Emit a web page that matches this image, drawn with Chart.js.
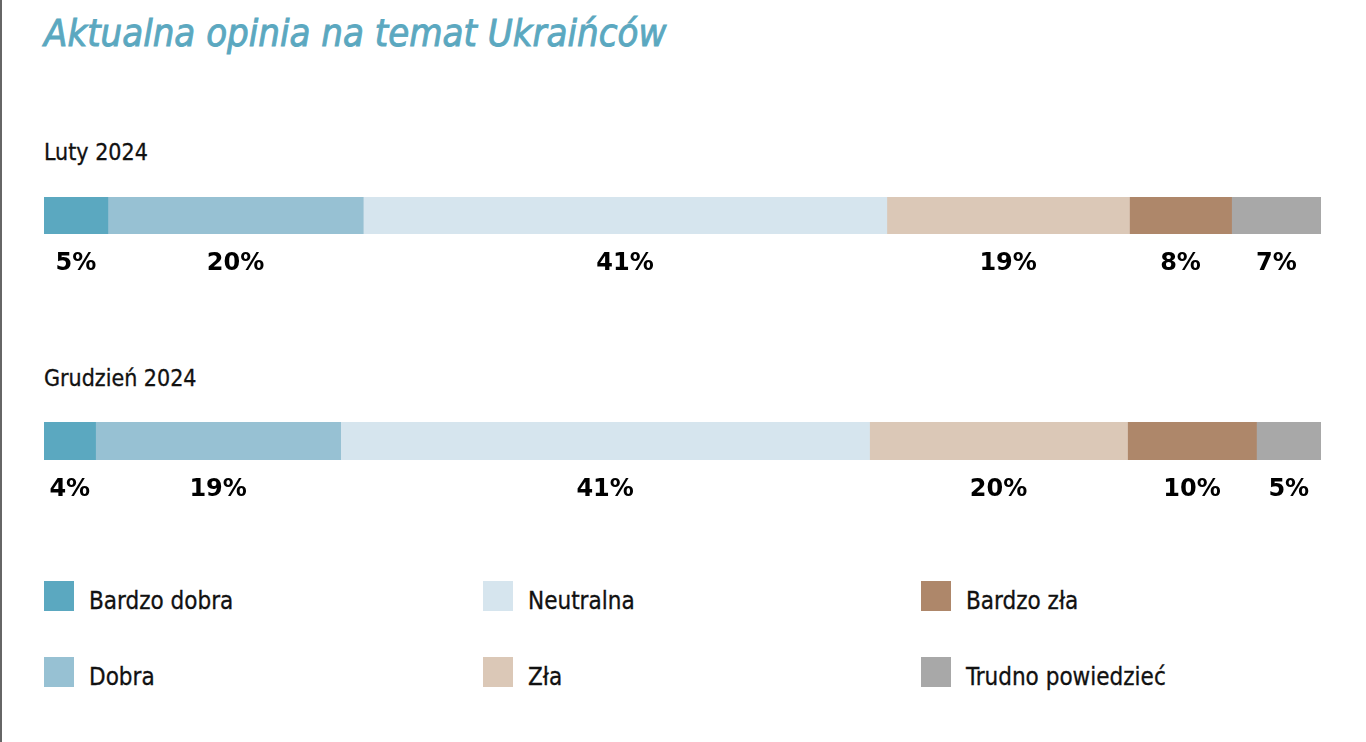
<!DOCTYPE html>
<html>
<head>
<meta charset="utf-8">
<script src="https://cdn.jsdelivr.net/npm/chart.js@4.4.0/dist/chart.umd.min.js"></script>
<style>
  html, body { margin: 0; padding: 0; background: #fff; }
  #page { position: relative; width: 1366px; height: 742px; overflow: hidden; border-left: 2px solid #666; box-sizing: border-box; }
  .cond { font-family: "Liberation Sans Narrow", "DejaVu Sans Condensed", "Open Sans", sans-serif; font-stretch: condensed; }
  #title { position: absolute; left: 42px; top: 11px; font-size: 38px; font-style: italic; color: #5ba8c0; white-space: nowrap; -webkit-text-stroke: 0.9px #5ba8c0; }
  .sub { position: absolute; left: 42px; font-size: 23px; color: #111; white-space: nowrap; -webkit-text-stroke: 0.3px #111; }
  .chartbox { position: absolute; left: -2px; width: 1366px; height: 110px; }
  .leg { position: absolute; font-size: 24px; color: #111; white-space: nowrap; }
  .leg span { position: absolute; left: 0; top: 0; width: 30px; height: 30px; }
  .leg b { position: absolute; left: 45px; top: 6px; font-weight: normal; -webkit-text-stroke: 0.3px #111; }
</style>
</head>
<body>
<div id="page">
  <div id="title" class="cond">Aktualna opinia na temat Ukraińców</div>
  <div class="sub cond" style="top:139px">Luty 2024</div>
  <div class="sub cond" style="top:365px">Grudzień 2024</div>
  <div class="chartbox" style="top:180px"><canvas id="bar-luty"></canvas></div>
  <div class="chartbox" style="top:405px"><canvas id="bar-grudzien"></canvas></div>
  <div id="legend"></div>
</div>
<script>
const categories = ["Bardzo dobra", "Dobra", "Neutralna", "Zła", "Bardzo zła", "Trudno powiedzieć"];
const lutyValues = [5, 20, 41, 19, 8, 7];
const grudzienValues = [4, 19, 41, 20, 10, 5];
const colors = ["#5ba8c0", "#97c1d3", "#d6e5ee", "#dbc8b7", "#ae876a", "#a8a8a8"];

// value labels under each segment
const belowLabels = {
  id: "belowLabels",
  afterDatasetsDraw(chart) {
    const ctx = chart.ctx;
    ctx.save();
    ctx.font = "bold 24px 'DejaVu Sans', sans-serif";
    ctx.fillStyle = "#000";
    ctx.textAlign = "center";
    ctx.textBaseline = "middle";
    chart.data.datasets.forEach((ds, i) => {
      const bar = chart.getDatasetMeta(i).data[0];
      const mid = (bar.x + bar.base) / 2;
      ctx.fillText(ds.data[0] + "%", mid, chart.chartArea.bottom + 30);
    });
    ctx.restore();
  }
};

function makeBar(id, values, padTop, padBottom) {
  const total = values.reduce((a, b) => a + b, 0);
  return new Chart(id, {
    type: "bar",
    data: {
      labels: [""],
      datasets: categories.map((c, i) => ({
        label: c,
        data: [values[i]],
        backgroundColor: colors[i],
        borderWidth: 0,
        barPercentage: 1,
        categoryPercentage: 1
      }))
    },
    options: {
      indexAxis: "y",
      responsive: true,
      maintainAspectRatio: false,
      animation: false,
      layout: { padding: { left: 44, right: 45, top: padTop, bottom: padBottom } },
      plugins: { legend: { display: false }, tooltip: { enabled: false }, title: { display: false } },
      scales: {
        x: { stacked: true, min: 0, max: total, display: false },
        y: { stacked: true, display: false }
      }
    },
    plugins: [belowLabels]
  });
}

makeBar("bar-luty", lutyValues, 17, 56);
makeBar("bar-grudzien", grudzienValues, 17, 55);

// legend, three columns of two
const legX = [42, 481, 919];
const legY = [581, 657];
categories.forEach((c, i) => {
  const col = Math.floor(i / 2), row = i % 2;
  document.getElementById("legend").innerHTML += `
  <div class="leg cond" style="left:${legX[col]}px; top:${legY[row]}px">
    <span style="background:${colors[i]}"></span><b>${c}</b>
  </div>`;
});
</script>
</body>
</html>
